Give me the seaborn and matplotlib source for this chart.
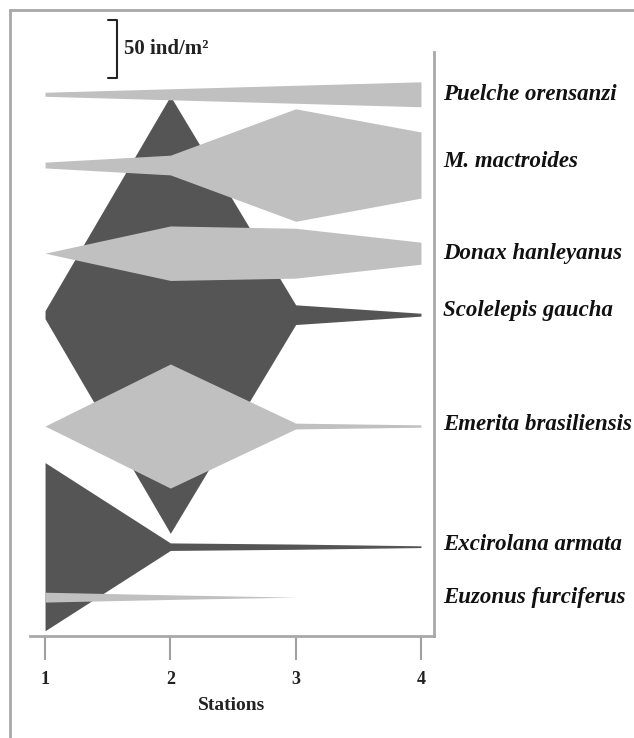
import numpy as np
import pandas as pd
import matplotlib.pyplot as plt
import seaborn as sns
from matplotlib.lines import Line2D
from matplotlib.transforms import blended_transform_factory

sns.set_theme(style="white")
plt.rcParams["font.family"] = ["Liberation Serif", "DejaVu Serif"]

# kite diagram data (ind/m2 per station)
stations = [1, 2, 3, 4]
species = ["Puelche orensanzi", "M. mactroides", "Donax hanleyanus", "Scolelepis gaucha",
           "Emerita brasiliensis", "Excirolana armata", "Euzonus furciferus"]
puelche = [3.5, 9.5, 15.5, 21.5]
mactroides = [5, 17, 97, 57]
donax = [0, 47, 43, 19]
scolelepis = [7, 377, 17, 2.5]
emerita = [0, 107, 5, 2]
excirolana = [145, 6.5, 4.5, 1.5]
euzonus = [8.5, 4, 0, 0]
shade = ["light", "light", "light", "dark", "light", "dark", "light"]

# layout: centre line of each kite (in ind/m2 units from the bottom axis)
baselines = [467, 406, 330, 277, 181, 77, 33.5]
label_offset = [0, 3, 0, 4, 1, 2, 0]

df = pd.DataFrame({"species": np.repeat(species, 4),
                   "station": stations * 7,
                   "density": puelche + mactroides + donax + scolelepis + emerita + excirolana + euzonus})

colors = {"dark": "#555555", "light": "#c0c0c0"}

fig = plt.figure(figsize=(6.34, 7.38), dpi=100)
W, H = 634, 738
ax = fig.add_axes([30 / W, (H - 636) / H, (434 - 30) / W, (636 - 52) / H])

# dark kites first, light kites drawn on top
for tone in ["dark", "light"]:
    for sp, base, t in zip(species, baselines, shade):
        if t != tone:
            continue
        d = df[df["species"] == sp]
        x = d["station"].to_numpy(dtype=float)
        half = d["density"].to_numpy() / 2
        ax.fill_between(x, base - half, base + half, color=colors[t], lw=0, zorder=2)

ax.set_xlim(0.88, 4.104)
ax.set_ylim(0, 584 / 1.16)
ax.set_xticks(stations)
ax.set_xticklabels([str(s) for s in stations], fontsize=13, fontweight="bold", color="#222222")
ax.set_yticks([])
ax.set_xlabel("Stations", fontsize=14, fontweight="bold", color="#222222", labelpad=7)
ax.tick_params(axis="x", direction="out", length=17, width=1.5, color="#a0a0a0", pad=8, bottom=True)

for side in ["left", "top"]:
    ax.spines[side].set_visible(False)
for side in ["bottom", "right"]:
    ax.spines[side].set_color("#a8a8a8")
    ax.spines[side].set_linewidth(2)

# species names on the right
tr = blended_transform_factory(ax.transAxes, ax.transData)
for sp, base, off in zip(species, baselines, label_offset):
    ax.text(1 + 9 / 404, base + off, sp, transform=tr, fontsize=16.5, style="italic",
            fontweight="bold", va="center", ha="left", color="#111111", clip_on=False)

# scale bar: 50 ind/m2
sx, tx = 1 + (117 - 45) / 125.33, 1 + (108 - 45) / 125.33
top = 531
ax.plot([tx, sx, sx, tx], [top, top, top - 50, top - 50], color="#222222", lw=1.5, clip_on=False)
ax.text(1 + (124 - 45) / 125.33, top - 25, "50 ind/m²", fontsize=15, fontweight="bold",
        va="center", ha="left", color="#222222", clip_on=False)

# outer frame of the figure panel
fig.add_artist(Line2D([10 / W, 10 / W], [0, 1 - 10 / H], color="#a8a8a8", lw=2))
fig.add_artist(Line2D([10 / W, 1], [1 - 10 / H, 1 - 10 / H], color="#a8a8a8", lw=2))

fig.savefig("out.png", dpi=100)
